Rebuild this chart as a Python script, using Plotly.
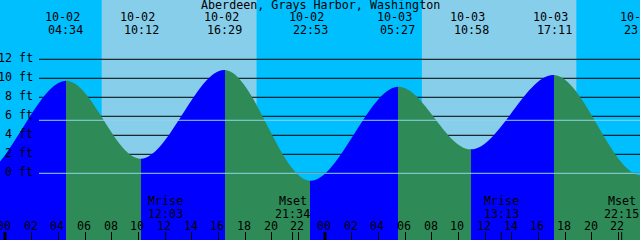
import plotly.graph_objects as go

LOCATION = "Aberdeen, Grays Harbor, Washington"

# Tide extremes (first/last two are off-chart estimates that shape the curve ends)
tide_dates = ["10-01", "10-01", "10-02", "10-02", "10-02", "10-02", "10-03", "10-03", "10-03", "10-03", "10-04"]
tide_times = ["15:50", "22:00", "04:34", "10:12", "16:29", "22:53", "05:27", "10:58", "17:11", "23:42", "05:55"]
tide_heights = [10.6, -0.3, 9.75, 1.54, 10.87, -0.78, 9.12, 2.52, 10.35, -0.2, 9.3]
tide_labeled = [False, False, True, True, True, True, True, True, True, True, False]

sun_dates = ["10-02", "10-02", "10-03", "10-03"]
sun_times = ["07:15", "18:52", "07:16", "18:51"]   # sunrise, sunset pairs

moon_events = ["Mrise", "Mset", "Mrise", "Mset"]
moon_dates = ["10-02", "10-02", "10-03", "10-03"]
moon_times = ["12:03", "21:34", "13:13", "22:15"]

level_ticks = [0, 2, 4, 6, 8, 10, 12]
mean_level = 5.58

FONT = "DejaVu Sans Mono"
FS = 11.7
NIGHT = "#00BFFF"
DAY = "#87CEEB"
FLOOD = "#0000FF"
EBB = "#2E8B57"
DATUM = "#90D4EA"

W, H = 640, 240
X0, X1 = -0.375, 47.625
Y0, Y1 = -7.02, 18.24


def to_hours(d, t):
    day = int(d.split("-")[1]) - 2
    hh, mm = t.split(":")
    return day * 24 + int(hh) + int(mm) / 60.0


def xp(h):
    return (h - X0) / (X1 - X0)


def yp(py):
    return 1 - py / H


tx = [to_hours(d, t) for d, t in zip(tide_dates, tide_times)]

# colorscale: blue while rising, green while falling
stops = []
prev = 0.0
for i in range(len(tx) - 1):
    a = min(max(xp(tx[i]), 0.0), 1.0)
    b = min(max(xp(tx[i + 1]), 0.0), 1.0)
    col = FLOOD if tide_heights[i + 1] > tide_heights[i] else EBB
    if b <= a:
        continue
    stops.append([a, col])
    stops.append([b, col])
stops[0][0] = 0.0
stops[-1][0] = 1.0

fig = go.Figure()
fig.add_trace(go.Scatter(x=[tx[0], tx[-1]], y=[-10, -10], mode="lines",
                         line=dict(width=0), hoverinfo="skip", showlegend=False))
fig.add_trace(go.Scatter(
    x=tx, y=tide_heights, mode="lines", line=dict(width=0, shape="spline", smoothing=1.0),
    fill="tonexty",
    fillgradient=dict(type="horizontal", colorscale=stops, start=X0, stop=X1),
    hoverinfo="skip", showlegend=False))

shapes = []
# day bands
for i in range(0, len(sun_times), 2):
    shapes.append(dict(type="rect", xref="x", yref="paper",
                       x0=to_hours(sun_dates[i], sun_times[i]),
                       x1=to_hours(sun_dates[i + 1], sun_times[i + 1]),
                       y0=0, y1=1, fillcolor=DAY, line=dict(width=0), layer="below"))
# level lines (behind the water)
for lv in level_ticks:
    shapes.append(dict(type="line", xref="paper", yref="y", x0=39 / W, x1=1, y0=lv, y1=lv,
                       line=dict(color="black", width=1), layer="below"))
# datum and mean lines over the water
for lv in [0, mean_level]:
    shapes.append(dict(type="line", xref="paper", yref="y", x0=39 / W, x1=1, y0=lv, y1=lv,
                       line=dict(color=DATUM, width=1), layer="above"))
# midnight ticks
for h in [0, 24]:
    shapes.append(dict(type="line", xref="x", yref="paper", x0=h, x1=h, y0=0, y1=8 / H,
                       line=dict(color="black", width=3), layer="above"))
# moon ticks
for d, t in zip(moon_dates, moon_times):
    h = to_hours(d, t)
    shapes.append(dict(type="line", xref="x", yref="paper", x0=h, x1=h, y0=0, y1=8 / H,
                       line=dict(color="black", width=1), layer="above"))

ann = []


def text(s, x, py, xref="paper", xanchor="center", xshift=0):
    ann.append(dict(text=s, x=x, y=yp(py), xref=xref, yref="paper", showarrow=False,
                    xanchor=xanchor, yanchor="middle", xshift=xshift,
                    font=dict(family=FONT, size=FS, color="black")))


text(LOCATION, 0.5, 4.5)
for d, t, lab, h in zip(tide_dates, tide_times, tide_labeled, tx):
    if lab:
        text(d, xp(h), 17.5, xshift=-3.5)
        text(t, xp(h), 29.5)
for lv in level_ticks:
    py = (Y1 - lv) / (Y1 - Y0) * H
    text(f"{lv} ft", 35 / W, py - 1, xanchor="right")
for n, d, t in zip(moon_events, moon_dates, moon_times):
    h = to_hours(d, t)
    text(n, xp(h), 201.3)
    text(t, xp(h), 213.5)
hour_ticks = list(range(0, 48, 2))
for h in hour_ticks:
    text(f"{h % 24:02d}", xp(h), 225.8, xshift=-1)

fig.update_layout(
    width=W, height=H, margin=dict(l=0, r=0, t=0, b=0),
    plot_bgcolor=NIGHT, paper_bgcolor=NIGHT,
    shapes=shapes, annotations=ann, showlegend=False,
    xaxis=dict(range=[X0, X1], showgrid=False, zeroline=False, showline=False,
               tickvals=hour_ticks, ticks="inside", ticklen=8, tickwidth=1, tickcolor="black",
               showticklabels=False, fixedrange=True),
    yaxis=dict(range=[Y0, Y1], visible=False, fixedrange=True),
)
fig.write_html("out.html", config={"displayModeBar": False})
